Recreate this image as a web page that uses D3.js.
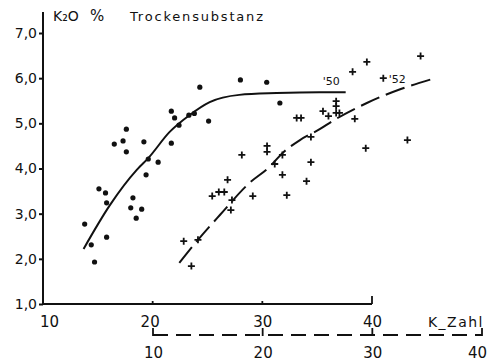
<!DOCTYPE html>
<html>
<head>
<meta charset="utf-8">
<script src="https://cdn.jsdelivr.net/npm/d3@7"></script>
<style>
  html, body { margin: 0; padding: 0; background: #fff; }
  svg { display: block; }
  text { font-family: "DejaVu Sans", sans-serif; fill: #111; }
</style>
</head>
<body>
<svg id="chart" width="495" height="362"></svg>
<script>
// ---- data ----
const xTicksTop = [10, 20, 30, 40];
const xTicksBottom = [10, 20, 30, 40];
const yTicks = [1, 2, 3, 4, 5, 6, 7];

// 1950 samples (dots) – upper K-Zahl scale
const dots50X = [24.3, 28.0, 30.4, 31.6, 21.7, 22.0, 22.4, 23.3, 23.8, 25.1, 17.6, 17.3, 16.5, 19.2, 17.6, 21.7, 19.6, 20.5, 19.4, 15.1, 15.7, 15.8, 18.2, 18.0, 19.0, 18.5, 13.8, 15.8, 14.4, 14.7];
const dots50Y = [5.80, 5.96, 5.91, 5.45, 5.27, 5.12, 4.96, 5.18, 5.22, 5.05, 4.87, 4.61, 4.54, 4.59, 4.37, 4.56, 4.21, 4.14, 3.86, 3.55, 3.46, 3.24, 3.35, 3.13, 3.10, 2.90, 2.77, 2.48, 2.31, 1.93];

// 1952 samples (crosses) – lower K-Zahl scale
const cross52X = [12.8, 14.1, 13.5, 15.4, 16.0, 16.5, 16.8, 17.2, 17.1, 18.1, 19.1, 20.4, 20.4, 21.8, 21.1, 21.8, 22.2, 23.1, 23.5, 24.0, 24.4, 24.4, 25.5, 26.0, 26.7, 26.7, 26.7, 27.0, 28.4, 28.2, 29.5, 29.4, 31.0, 33.2, 34.4];
const cross52Y = [2.39, 2.42, 1.84, 3.39, 3.48, 3.48, 3.75, 3.30, 3.08, 4.30, 3.39, 4.50, 4.37, 4.30, 4.10, 3.86, 3.41, 5.12, 5.12, 3.72, 4.70, 4.14, 5.27, 5.16, 5.49, 5.38, 5.23, 5.23, 5.10, 6.14, 6.36, 4.45, 6.00, 4.63, 6.49];

// fitted curves
const curve50X = [13.7, 16.1, 18.55, 19.6, 21.55, 23.35, 25.2, 27.9, 31.3, 35.2, 37.6];
const curve50Y = [2.22, 3.19, 3.97, 4.23, 4.81, 5.18, 5.47, 5.63, 5.67, 5.69, 5.69];
const curve52X = [12.4, 14.1, 16.1, 18.8, 20.6, 21.8, 23.4, 25.2, 26.5, 29.5, 32.6, 35.45];
const curve52Y = [1.91, 2.42, 2.97, 3.68, 4.03, 4.34, 4.63, 4.87, 5.07, 5.45, 5.76, 5.98];

const seriesLabels = ["'50", "'52"];
const titleParts = ["K\u2082O", "%", "Trockensubstanz"];
const xAxisTitle = "K_Zahl";

// ---- scales ----
const svg = d3.select("#chart");
const xTop = d3.scaleLinear().domain([10, 40]).range([43, 372]);
const xBot = d3.scaleLinear().domain([10, 40]).range([153, 482]);
const y = d3.scaleLinear().domain([1, 7]).range([304, 33]);
const yAxisTopPx = 12;
const yBotAxisPx = 335;
const ink = "#111";
const fmt = d => d3.format(".1f")(d).replace(".", ",");

// ---- y axis ----
const gy = svg.append("g").attr("transform", `translate(${xTop(10)},0)`)
  .call(d3.axisLeft(y).tickValues(yTicks).tickSize(4).tickPadding(2).tickFormat(fmt));
gy.select(".domain").remove();
gy.selectAll(".tick line").attr("stroke", ink).attr("stroke-width", 2);
gy.selectAll(".tick text").attr("font-size", 14).attr("fill", ink).style("font-family", "DejaVu Sans");
svg.append("line")
  .attr("x1", xTop(10)).attr("x2", xTop(10))
  .attr("y1", yAxisTopPx).attr("y2", y(1))
  .attr("stroke", ink).attr("stroke-width", 2);

// ---- top (solid) x axis ----
const gxTop = svg.append("g").attr("transform", `translate(0,${y(1)})`)
  .call(d3.axisBottom(xTop).tickValues(xTicksTop).tickSize(0).tickPadding(12).tickFormat(d3.format("d")));
gxTop.select(".domain").remove();
gxTop.selectAll(".tick text").attr("font-size", 15).attr("fill", ink).style("font-family", "DejaVu Sans")
  .attr("dx", d => d === 10 ? 6 : (d === 20 ? -3 : 0));
svg.append("line")
  .attr("x1", xTop(10)).attr("x2", xTop(40))
  .attr("y1", y(1)).attr("y2", y(1))
  .attr("stroke", ink).attr("stroke-width", 2);
svg.selectAll(".topTick").data(xTicksTop.slice(1)).enter().append("line")
  .attr("x1", d => xTop(d)).attr("x2", d => xTop(d))
  .attr("y1", y(1)).attr("y2", d => y(1) - (d === 40 ? 8 : 3))
  .attr("stroke", ink).attr("stroke-width", 1.8);

// ---- bottom (dashed) x axis ----
const gxBot = svg.append("g").attr("transform", `translate(0,${yBotAxisPx})`)
  .call(d3.axisBottom(xBot).tickValues(xTicksBottom).tickSize(0).tickPadding(12).tickFormat(d3.format("d")));
gxBot.select(".domain").remove();
gxBot.selectAll(".tick text").attr("font-size", 15).attr("fill", ink).style("font-family", "DejaVu Sans")
  .attr("dx", d => d === 40 ? -5 : 0);
svg.append("line")
  .attr("x1", xBot(10)).attr("x2", xBot(40))
  .attr("y1", yBotAxisPx).attr("y2", yBotAxisPx)
  .attr("stroke", ink).attr("stroke-width", 2)
  .attr("stroke-dasharray", "15,8");
svg.selectAll(".botTick").data(xTicksBottom).enter().append("line")
  .attr("x1", d => xBot(d)).attr("x2", d => xBot(d))
  .attr("y1", yBotAxisPx + 1).attr("y2", yBotAxisPx - 7)
  .attr("stroke", ink).attr("stroke-width", 1.8);

svg.append("text").attr("x", 484).attr("y", 327)
  .attr("text-anchor", "end").attr("font-size", 14).attr("letter-spacing", 1.5)
  .text(xAxisTitle);

// ---- title ----
svg.append("text").attr("x", 53).attr("y", 21).attr("font-size", 14).text(titleParts[0]);
svg.append("text").attr("x", 90).attr("y", 21).attr("font-size", 15).text(titleParts[1]);
svg.append("text").attr("x", 130).attr("y", 21).attr("font-size", 13)
  .attr("textLength", 133).attr("lengthAdjust", "spacing").text(titleParts[2]);

// ---- curves ----
const line50 = d3.line().x(d => xTop(d[0])).y(d => y(d[1])).curve(d3.curveMonotoneX);
const line52 = d3.line().x(d => xBot(d[0])).y(d => y(d[1])).curve(d3.curveMonotoneX);
svg.append("path").datum(d3.zip(curve50X, curve50Y))
  .attr("d", line50).attr("fill", "none").attr("stroke", ink).attr("stroke-width", 2);
svg.append("path").datum(d3.zip(curve52X, curve52Y))
  .attr("d", line52).attr("fill", "none").attr("stroke", ink).attr("stroke-width", 2)
  .attr("stroke-dasharray", "20,7");

// ---- points ----
svg.selectAll(".dot").data(d3.zip(dots50X, dots50Y)).enter().append("circle")
  .attr("cx", d => xTop(d[0])).attr("cy", d => y(d[1])).attr("r", 2.6).attr("fill", ink);
svg.selectAll(".cross").data(d3.zip(cross52X, cross52Y)).enter().append("path")
  .attr("transform", d => `translate(${xBot(d[0])},${y(d[1])})`)
  .attr("d", "M-3.5,0H3.5M0,-3.5V3.5")
  .attr("stroke", ink).attr("stroke-width", 1.8).attr("fill", "none");

// ---- series labels ----
svg.append("text").attr("x", xTop(35.5)).attr("y", y(5.85)).attr("font-size", 11).text(seriesLabels[0]);
svg.append("text").attr("x", xBot(31.5)).attr("y", y(5.9)).attr("font-size", 11).text(seriesLabels[1]);
</script>
</body>
</html>
